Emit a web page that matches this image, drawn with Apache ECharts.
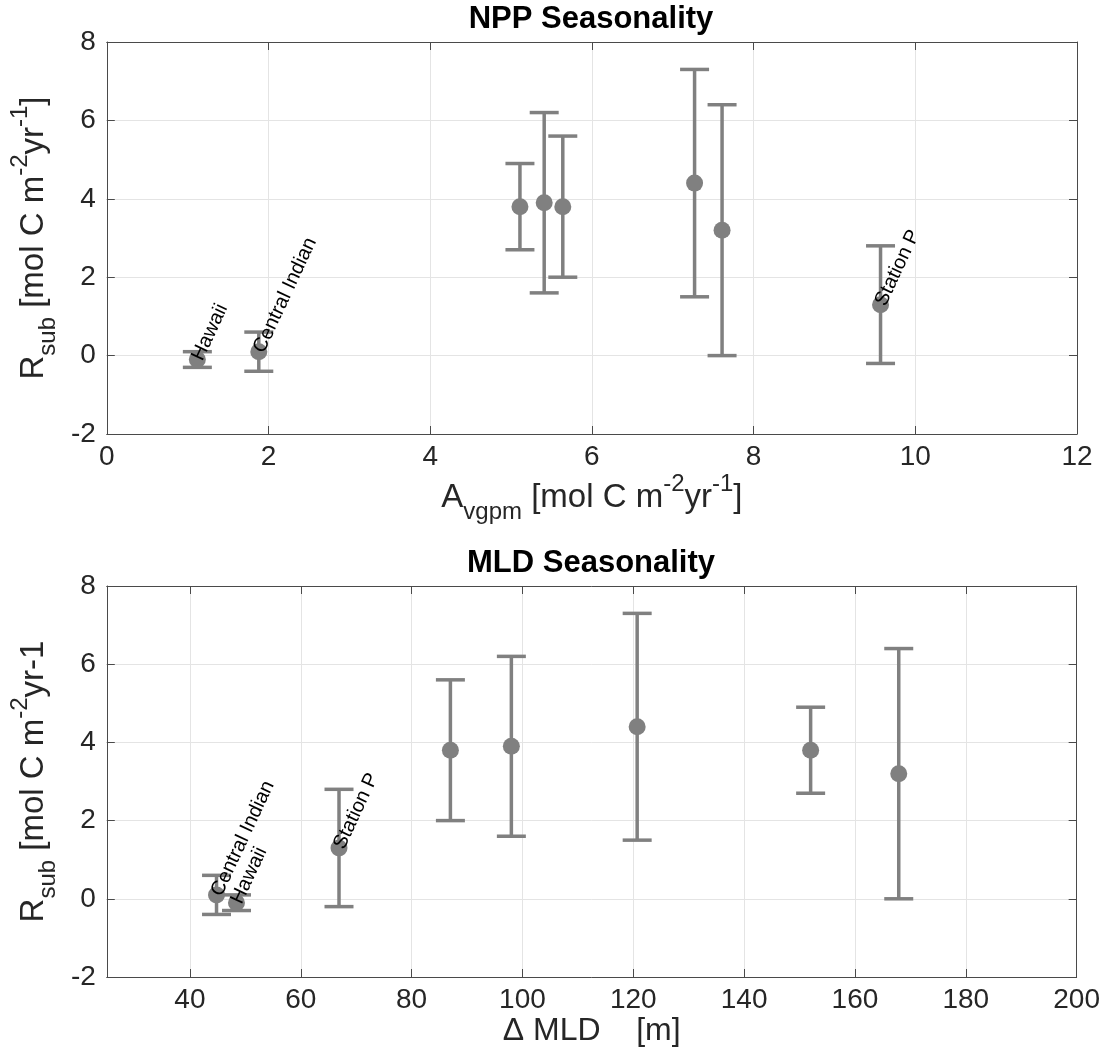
<!DOCTYPE html>
<html><head><meta charset="utf-8">
<script src="https://cdn.jsdelivr.net/npm/echarts@6/dist/echarts.min.js"></script>
<style>html,body{margin:0;padding:0;background:#fff}#c{width:1103px;height:1050px}</style>
</head><body><div id="c"></div>
<script>
// ---- data ----
const siteNames = ['Hawaii', 'Central Indian', '', '', '', '', '', 'Station P'];
const rsub      = [-0.1, 0.1, 3.8, 3.9, 3.8, 4.4, 3.2, 1.3];
const rsubLow   = [-0.3, -0.4, 2.7, 1.6, 2.0, 1.5, 0.0, -0.2];
const rsubHigh  = [0.1, 0.6, 4.9, 6.2, 5.6, 7.3, 6.4, 2.8];
const nppAmp    = [1.12, 1.88, 5.11, 5.41, 5.64, 7.27, 7.61, 9.57];
const mldDelta  = [48.4, 44.8, 152.0, 98.0, 87.0, 120.7, 167.9, 66.9];
const nppRange  = [0, 12, 2];      // min, max, step
const mldRange  = [25, 200];       // min, max
const rsubRange = [-2, 8, 2];      // min, max, step

const FONT = '"Liberation Sans", Arial, Helvetica, sans-serif';
const GRAY = '#808080';
const AX = '#4a4a4a';
const TXT = '#262626';

function errRender(params, api) {
  const x = api.value(0), lo = api.value(2), hi = api.value(3);
  const pLo = api.coord([x, lo]), pHi = api.coord([x, hi]);
  const w = 14.5;
  const style = { stroke: GRAY, lineWidth: 3.5, fill: null };
  return { type: 'group', children: [
    { type: 'line', shape: { x1: pLo[0], y1: pLo[1], x2: pHi[0], y2: pHi[1] }, style },
    { type: 'line', shape: { x1: pLo[0] - w, y1: pLo[1], x2: pLo[0] + w, y2: pLo[1] }, style },
    { type: 'line', shape: { x1: pHi[0] - w, y1: pHi[1], x2: pHi[0] + w, y2: pHi[1] }, style }
  ]};
}

const richName = {
  m:   { fontSize: 33, fontFamily: FONT, color: TXT, verticalAlign: 'middle' },
  sub: { fontSize: 24, fontFamily: FONT, color: TXT, verticalAlign: 'middle', padding: [28, 0, 0, 0] },
  sup: { fontSize: 24, fontFamily: FONT, color: TXT, verticalAlign: 'middle', padding: [0, 0, 28, 0] }
};

const tickFont = { fontSize: 28, fontFamily: FONT, color: TXT };

function boxAxisCommon(extra) {
  return Object.assign({
    type: 'value',
    axisLine: { show: true, onZero: false, lineStyle: { color: AX, width: 1 } },
    axisTick: { show: true, inside: true, length: 8, lineStyle: { color: AX } },
    splitLine: { show: false },
    axisLabel: { show: false }
  }, extra);
}
const gridLine = { show: true, lineStyle: { color: '#e4e4e4', width: 1 } };

const errTop = nppAmp.map((x, i) => [x, rsub[i], rsubLow[i], rsubHigh[i]]);
const errBot = mldDelta.map((x, i) => [x, rsub[i], rsubLow[i], rsubHigh[i]]);
const ptsTop = nppAmp.map((x, i) => ({ name: siteNames[i], value: [x, rsub[i]] }));
const ptsBot = mldDelta.map((x, i) => ({ name: siteNames[i], value: [x, rsub[i]] }));

const labelStyle = {
  show: true, formatter: '{b}', position: 'inside', align: 'left', verticalAlign: 'middle',
  rotate: 65, fontSize: 20, fontFamily: FONT, color: '#000'
};

const chart = echarts.init(document.getElementById('c'), null, { renderer: 'canvas' });
chart.setOption({
  animation: false,
  backgroundColor: '#fff',
  title: [
    { text: 'NPP Seasonality', left: 591, top: 4, textAlign: 'center', padding: 0,
      textStyle: { fontSize: 31, fontWeight: 'bold', fontFamily: FONT, color: '#000' } },
    { text: 'MLD Seasonality', left: 591, top: 548, textAlign: 'center', padding: 0,
      textStyle: { fontSize: 31, fontWeight: 'bold', fontFamily: FONT, color: '#000' } }
  ],
  grid: [
    { left: 106, right: 26, top: 42, height: 392 },
    { left: 106, right: 26, top: 586, height: 391 }
  ],
  xAxis: [
    boxAxisCommon({ gridIndex: 0, position: 'bottom', min: nppRange[0], max: nppRange[1], interval: nppRange[2],
      axisLabel: Object.assign({ show: true, margin: 9 }, tickFont),
      splitLine: gridLine,
      name: '{m|A}{sub|vgpm}{m| [mol C m}{sup|-2}{m|yr}{sup|-1}{m|]}',
      nameLocation: 'middle', nameGap: 37, nameTextStyle: { rich: richName } }),
    boxAxisCommon({ gridIndex: 0, position: 'top', min: nppRange[0], max: nppRange[1], interval: nppRange[2] }),
    boxAxisCommon({ gridIndex: 1, position: 'bottom', min: mldRange[0], max: mldRange[1], splitNumber: 9,
      axisLabel: Object.assign({ show: true, margin: 9, showMinLabel: false }, tickFont),
      splitLine: gridLine,
      name: '\u0394 MLD    [m]', nameLocation: 'middle', nameGap: 38,
      nameTextStyle: { fontSize: 32, fontFamily: FONT, color: TXT } }),
    boxAxisCommon({ gridIndex: 1, position: 'top', min: mldRange[0], max: mldRange[1], splitNumber: 9 })
  ],
  yAxis: [
    boxAxisCommon({ gridIndex: 0, position: 'left', min: rsubRange[0], max: rsubRange[1], interval: rsubRange[2],
      axisLabel: Object.assign({ show: true, margin: 11 }, tickFont),
      splitLine: gridLine,
      name: '{m|R}{sub|sub}{m| [mol C m}{sup|-2}{m|yr}{sup|-1}{m|]}',
      nameLocation: 'middle', nameRotate: 90, nameGap: 43, nameTextStyle: { rich: richName } }),
    boxAxisCommon({ gridIndex: 0, position: 'right', min: rsubRange[0], max: rsubRange[1], interval: rsubRange[2] }),
    boxAxisCommon({ gridIndex: 1, position: 'left', min: rsubRange[0], max: rsubRange[1], interval: rsubRange[2],
      axisLabel: Object.assign({ show: true, margin: 11 }, tickFont),
      splitLine: gridLine,
      name: '{m|R}{sub|sub}{m| [mol C m}{sup|-2}{m|yr-1}',
      nameLocation: 'middle', nameRotate: 90, nameGap: 43, nameTextStyle: { rich: richName } }),
    boxAxisCommon({ gridIndex: 1, position: 'right', min: rsubRange[0], max: rsubRange[1], interval: rsubRange[2] })
  ],
  series: [
    { type: 'custom', xAxisIndex: 0, yAxisIndex: 0, data: errTop, renderItem: errRender, z: 2,
      encode: { x: 0, y: [2, 3] }, silent: true },
    { type: 'scatter', xAxisIndex: 0, yAxisIndex: 0, data: ptsTop, symbolSize: 17, z: 3,
      itemStyle: { color: GRAY, opacity: 1 }, label: labelStyle, silent: true },
    { type: 'custom', xAxisIndex: 2, yAxisIndex: 2, data: errBot, renderItem: errRender, z: 2,
      encode: { x: 0, y: [2, 3] }, silent: true },
    { type: 'scatter', xAxisIndex: 2, yAxisIndex: 2, data: ptsBot, symbolSize: 17, z: 3,
      itemStyle: { color: GRAY, opacity: 1 }, label: labelStyle, silent: true }
  ]
});
</script>
</body></html>
